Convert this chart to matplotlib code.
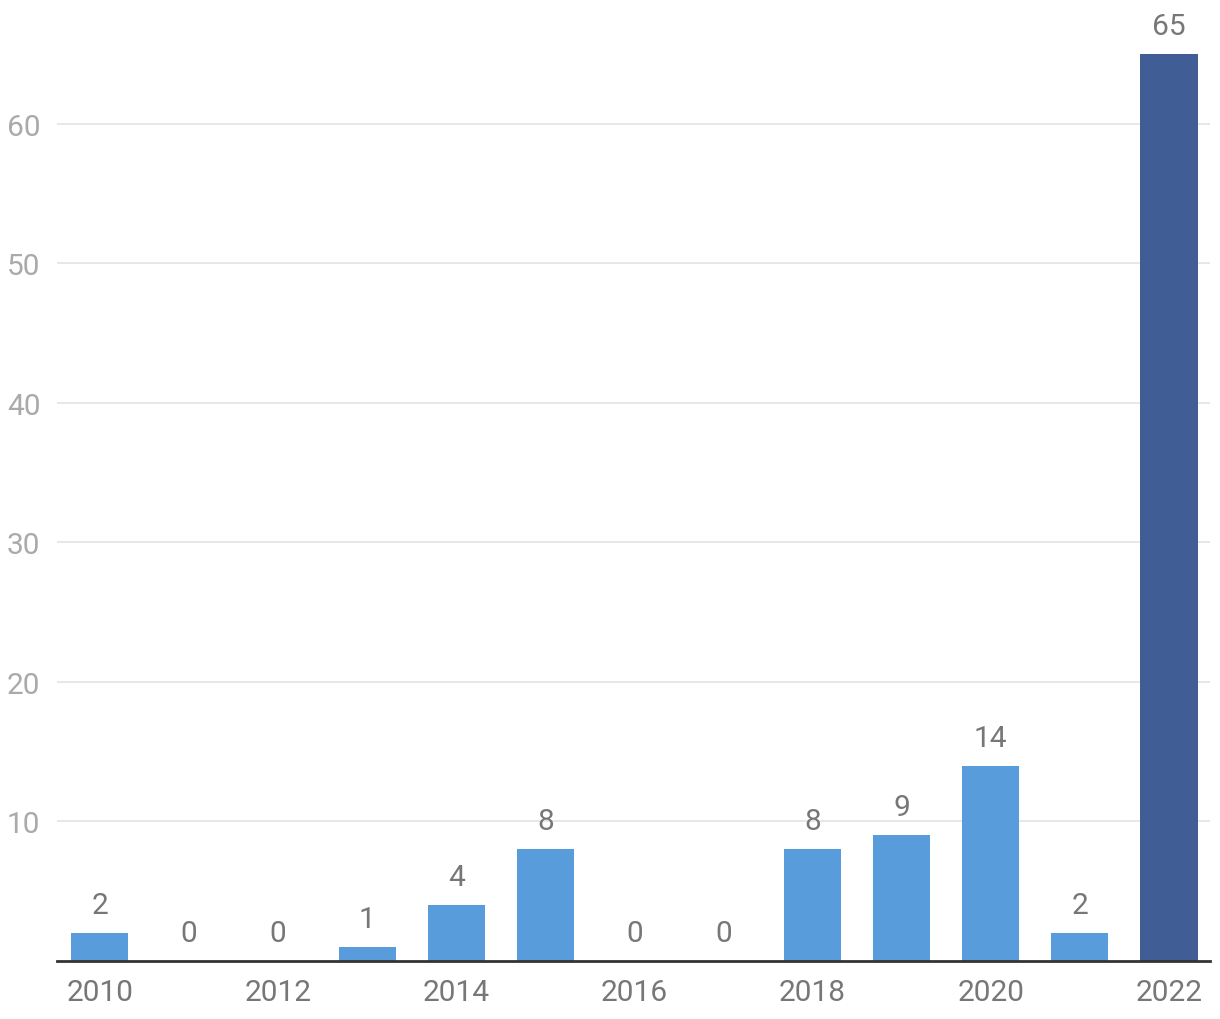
import matplotlib
matplotlib.use("Agg")
import matplotlib.pyplot as plt

years = [2010, 2011, 2012, 2013, 2014, 2015, 2016, 2017, 2018, 2019, 2020, 2021, 2022]
values = [2, 0, 0, 1, 4, 8, 0, 0, 8, 9, 14, 2, 65]
bar_colors = ["#589cdb"] * 12 + ["#405d96"]
yticks = [10, 20, 30, 40, 50, 60]

plt.rcParams['font.family'] = ['Roboto', 'DejaVu Sans']

W, H = 1220, 1020
fig = plt.figure(figsize=(W / 100, H / 100), dpi=100)
left, right, bottom, top = 57, 1210, 962, 20
ax = fig.add_axes([left / W, (H - bottom) / H, (right - left) / W, (bottom - top) / H])

x = list(range(len(years)))
ax.bar(x, values, width=0.64, color=bar_colors, zorder=2)
for xi, v in zip(x, values):
    ax.text(xi, v + 1.0, str(v), ha='center', va='bottom', fontsize=21.5,
            color='#777777')

ax.set_xlim(-0.48, 12.46)
ax.set_ylim(0, 67.5)
ax.set_yticks(yticks)
ax.set_yticklabels([str(t) for t in yticks], fontsize=21.5, color='#aaaaaa')
ax.tick_params(axis='y', length=0, pad=12)
ax.set_xticks(x[::2])
ax.set_xticklabels([str(y) for y in years[::2]], fontsize=21.5, color='#777777')
ax.tick_params(axis='x', length=0, pad=12)
ax.grid(axis='y', color='#e5e5e5', linewidth=1.3, zorder=0)
for s in ['top', 'right', 'left']:
    ax.spines[s].set_visible(False)
ax.spines['bottom'].set_color('#333333')
ax.spines['bottom'].set_linewidth(2)
ax.spines['bottom'].set_zorder(3)

fig.savefig('out.png', dpi=100)
